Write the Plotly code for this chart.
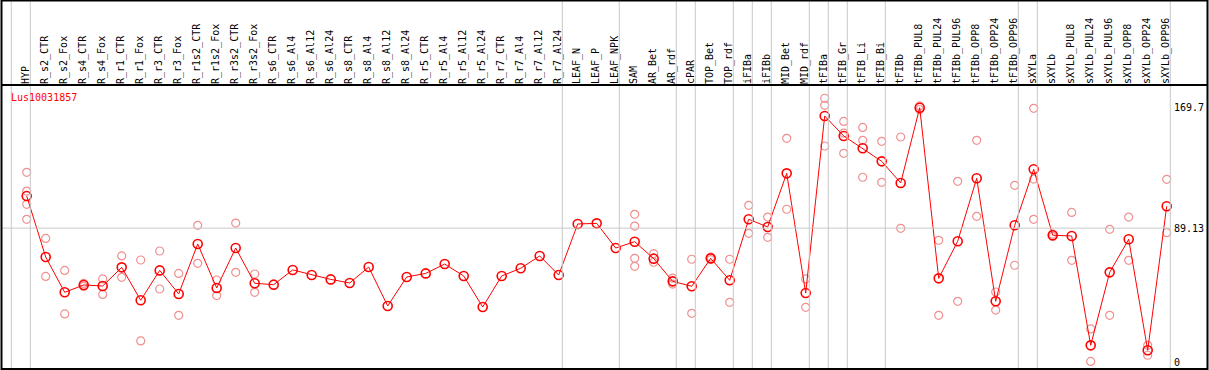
import plotly.graph_objects as go

# ---------------- data ----------------
categories = ["HYP", "R_s2_CTR", "R_s2_Fox", "R_s4_CTR", "R_s4_Fox", "R_r1_CTR", "R_r1_Fox",
              "R_r3_CTR", "R_r3_Fox", "R_r1s2_CTR", "R_r1s2_Fox", "R_r3s2_CTR", "R_r3s2_Fox",
              "R_s6_CTR", "R_s6_Al4", "R_s6_Al12", "R_s6_Al24", "R_s8_CTR", "R_s8_Al4",
              "R_s8_Al12", "R_s8_Al24", "R_r5_CTR", "R_r5_Al4", "R_r5_Al12", "R_r5_Al24",
              "R_r7_CTR", "R_r7_Al4", "R_r7_Al12", "R_r7_Al24", "LEAF_N", "LEAF_P", "LEAF_NPK",
              "SAM", "AR_Bet", "AR_rdf", "cPAR", "TOP_Bet", "TOP_rdf", "iFIBa", "iFIBb",
              "MID_Bet", "MID_rdf", "tFIBa", "tFIB_Gr", "tFIB_Li", "tFIB_Bi", "tFIBb",
              "tFIBb_PUL8", "tFIBb_PUL24", "tFIBb_PUL96", "tFIBb_OPP8", "tFIBb_OPP24",
              "tFIBb_OPP96", "sXYLa", "sXYLb", "sXYLb_PUL8", "sXYLb_PUL24", "sXYLb_PUL96",
              "sXYLb_OPP8", "sXYLb_OPP24", "sXYLb_OPP96"]

mean_values = [110.5, 69.9, 46.4, 51.3, 50.6, 63.0, 41.1, 61.0, 45.3, 78.6, 49.3, 75.9, 52.4,
               51.5, 61.3, 57.9, 55.0, 52.6, 63.2, 37.3, 56.6, 59.0, 65.2, 57.3, 36.6,
               57.3, 62.4, 70.6, 57.9, 91.9, 92.3, 75.9,
               80.1, 68.8, 53.7, 50.4, 69.0, 54.4, 95.0, 89.9, 125.6, 45.9,
               163.8, 150.5, 142.3, 133.6, 119.2,
               169.3, 55.7, 80.4, 122.3, 40.4, 91.0,
               128.3, 84.4, 83.9, 11.1, 59.7, 81.7, 7.8, 103.7]

replicate_values = [
    [126.3, 113.8, 105.0, 95.0], [82.3, 57.0], [61.0, 32.0], [52.3, 50.3], [55.3, 45.0],
    [70.6, 56.4], [67.9, 14.0], [73.9, 48.6], [59.0, 31.1], [91.0, 65.7], [54.6, 44.2],
    [92.5, 59.7], [58.6, 46.4],
    [], [], [], [], [], [], [], [], [], [], [], [], [], [], [], [], [], [], [],
    [98.3, 90.5, 69.0, 63.7], [72.1, 66.4], [55.9, 51.9], [68.4, 32.4], [69.8, 68.2],
    [68.4, 39.7], [104.3, 85.7], [96.5, 83.0], [148.9, 101.7], [55.3, 36.4],
    [175.6, 170.9, 143.8], [160.2, 152.4, 138.9], [156.2, 147.6, 123.0], [146.9, 119.6],
    [149.8, 89.0],
    [170.5, 168.1], [81.0, 31.1], [120.3, 40.4], [147.6, 97.0], [46.6, 34.6], [117.6, 64.4],
    [168.9, 121.8, 95.0], [85.2, 83.6], [99.6, 67.7], [22.0, 0.4], [88.3, 31.1],
    [96.5, 67.7], [11.1, 4.5], [121.6, 86.1]]

y_tick_values = [0, 89.13, 169.7]
y_tick_labels = ["0", "89.13", "169.7"]
gridline_value = 89.13
separator_after = [-1, 0, 28, 31, 34, 35, 37, 38, 39, 41, 42, 43, 45, 52, 53, 60]
title_text = "Lus10031857"

# ---------------- geometry ----------------
W, H = 1209, 370
PL, PR, PT, PB = 1, 1170, 85, 369      # plot area in pixels
FONT = "DejaVu Sans Mono"


def xp(px):
    return (px - PL) / (PR - PL)


def yp(py):
    return (PB - py) / (PB - PT)


x_idx = list(range(len(categories)))
rep_x, rep_y = [], []
for i, reps in enumerate(replicate_values):
    for v in reps:
        rep_x.append(i)
        rep_y.append(v)

fig = go.Figure()
fig.add_trace(go.Scatter(
    x=rep_x, y=rep_y, mode="markers",
    marker=dict(symbol="circle-open", size=8, color="#F09090", line=dict(width=1.2)),
    hoverinfo="skip", showlegend=False, cliponaxis=False))
fig.add_trace(go.Scatter(
    x=x_idx, y=mean_values, mode="lines+markers",
    line=dict(color="#FF0000", width=1),
    marker=dict(symbol="circle-open", size=9, color="#FF0000", line=dict(width=1.6)),
    showlegend=False, cliponaxis=False))

px_per_unit = 19.0
x0_px = 26.7
xmin = -(x0_px - PL) / px_per_unit
xmax = xmin + (PR - PL) / px_per_unit
ypx_per_unit = 1.502
y0_px = 362.0
ymax = (y0_px - PT) / ypx_per_unit
ymin = -(PB - y0_px) / ypx_per_unit

shapes = []
# vertical separators (span whole figure height)
for s in separator_after:
    px = x0_px + px_per_unit * s + 3.6
    shapes.append(dict(type="line", xref="paper", yref="paper",
                       x0=xp(px), x1=xp(px), y0=yp(0), y1=yp(PB),
                       line=dict(color="#C8C8C8", width=1)))
# horizontal gridline
gy = PT + (ymax - gridline_value) * ypx_per_unit
shapes.append(dict(type="line", xref="paper", yref="paper", x0=xp(1), x1=xp(PR),
                   y0=yp(gy), y1=yp(gy), line=dict(color="#C8C8C8", width=1)))
# black frame
blk = dict(color="black", width=2)
shapes.append(dict(type="line", xref="paper", yref="paper", x0=xp(1), x1=xp(1208),
                   y0=yp(PT), y1=yp(PT), line=blk))
shapes.append(dict(type="rect", xref="paper", yref="paper", x0=xp(1.5), x1=xp(1207.5),
                   y0=yp(0.5), y1=yp(PB), line=blk))

fig.update_layout(
    width=W, height=H,
    margin=dict(l=PL, r=W - PR, t=PT, b=H - PB, pad=0),
    paper_bgcolor="white", plot_bgcolor="white",
    font=dict(family=FONT, size=10, color="black"),
    shapes=shapes,
    xaxis=dict(range=[xmin, xmax], side="top", tickmode="array", tickvals=x_idx,
               ticktext=categories, tickangle=-90, ticks="", ticklen=0,
               showgrid=False, zeroline=False, showline=False,
               tickfont=dict(family=FONT, size=10, color="black"),
               ticklabelstandoff=0, ticklabelshift=-1),
    yaxis=dict(range=[ymin, ymax], side="right", tickmode="array", tickvals=y_tick_values,
               ticktext=y_tick_labels, ticks="", showgrid=False, zeroline=False,
               showline=False, tickfont=dict(family=FONT, size=10, color="black"),
               ticklabelstandoff=3),
    annotations=[dict(text=title_text, xref="paper", yref="paper", x=xp(9), y=yp(97),
                      xanchor="left", yanchor="middle", showarrow=False,
                      font=dict(family=FONT, size=10, color="#FF0000"))],
    showlegend=False,
)

fig.write_html("out.html", config={"displayModeBar": False},
               post_script="document.body.style.margin='0';document.body.style.padding='0';")
